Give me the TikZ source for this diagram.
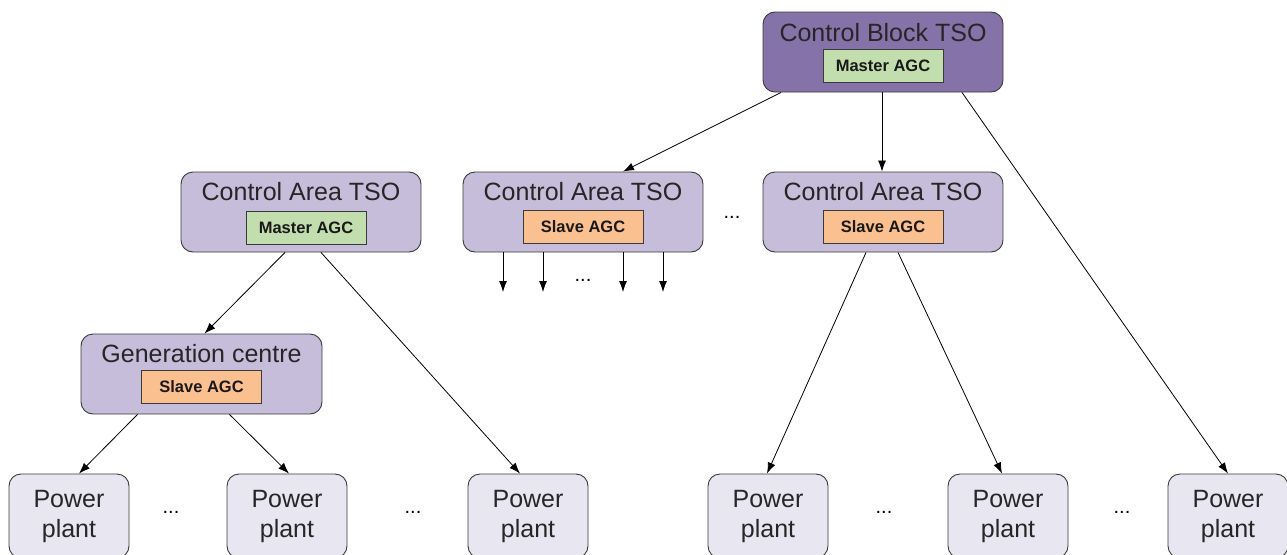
\documentclass[tikz,border=0pt]{standalone}
\usepackage{fontspec}
\setmainfont{Liberation Sans}
\usetikzlibrary{arrows.meta,calc}
\definecolor{cbfill}{HTML}{8572A8}
\definecolor{cafill}{HTML}{C5BDD9}
\definecolor{ppfill}{HTML}{E8E6F0}
\definecolor{mfill}{HTML}{C3DEAE}
\definecolor{sfill}{HTML}{FBC08F}
\definecolor{edge}{HTML}{3A3A3A}
\tikzset{
  outer/.style={draw=edge, line width=0.9pt, rounded corners=12pt, minimum width=240pt, minimum height=80pt, inner sep=0pt},
  blockbox/.style={outer, fill=cbfill},
  areabox/.style={outer, fill=cafill},
  plantbox/.style={outer, fill=ppfill, minimum width=120pt, minimum height=84pt, align=center, font=\fontsize{25}{30}\selectfont, text=black!85},
  title/.style={font=\fontsize{25}{30}\selectfont, text=black!85, inner sep=0pt},
  agc/.style={draw=edge, line width=0.7pt, minimum width=120pt, minimum height=33pt, inner sep=0pt, font=\bfseries\fontsize{16.5}{20}\selectfont, text=black!90},
  masteragc/.style={agc, fill=mfill},
  slaveagc/.style={agc, fill=sfill},
  conn/.style={draw=black, line width=0.8pt, -{Latex[length=11pt,width=8pt]}},
  dots/.style={font=\fontsize{20}{24}\selectfont, inner sep=0pt}
}
\begin{document}
\begin{tikzpicture}[x=1pt,y=-1pt]
\useasboundingbox (0,0) rectangle (1287,554);
% Control Block TSO
\node[blockbox] (cb) at (883,52) {};
\node[title] (cbt) at ([yshift=-21pt]cb.north) {Control Block TSO};
\node[masteragc] (cbagc) at ([yshift=-54pt]cb.north) {Master AGC};
% Control Area left
\node[areabox] (cal) at (301,212) {};
\node[title] (calt) at ([yshift=-20pt]cal.north) {Control Area TSO};
\node[masteragc] (calagc) at ([xshift=5pt,yshift=-56pt]cal.north) {Master AGC};
% Control Area mid
\node[areabox] (cam) at (583,212) {};
\node[title] (camt) at ([yshift=-20pt]cam.north) {Control Area TSO};
\node[slaveagc] (camagc) at ([yshift=-55pt]cam.north) {Slave AGC};
% Control Area right
\node[areabox] (car) at (883,212) {};
\node[title] (cart) at ([yshift=-20pt]car.north) {Control Area TSO};
\node[slaveagc] (caragc) at ([yshift=-55pt]car.north) {Slave AGC};
% Generation centre
\node[areabox, minimum width=241pt] (gc) at (201.5,374) {};
\node[title] (gct) at ([yshift=-20pt]gc.north) {Generation centre};
\node[slaveagc] (gcagc) at ([yshift=-53pt]gc.north) {Slave AGC};
% Power plants
\node[plantbox] (pp1) at (69,516) {Power\\plant};
\node[plantbox] (pp2) at (287,516) {Power\\plant};
\node[plantbox] (pp3) at (528,516) {Power\\plant};
\node[plantbox] (pp4) at (768,516) {Power\\plant};
\node[plantbox] (pp5) at (1008,516) {Power\\plant};
\node[plantbox] (pp6) at (1228,516) {Power\\plant};
% dots
\node[dots] (d1) at (171,512) {...};
\node[dots] (d2) at (413,512) {...};
\node[dots] (d3) at (884,512) {...};
\node[dots] (d4) at (1122,512) {...};
\node[dots] (d5) at (732,217) {...};
\node[dots] (d6) at (583,280) {...};
% free ends below mid control area
\coordinate (m1) at (503,292);
\coordinate (m2) at (543,292);
\coordinate (m3) at (623,292);
\coordinate (m4) at (663,292);
% connectors
\draw[conn] ([xshift=-102pt]cb.south) -- ([xshift=40pt]cam.north);
\draw[conn] ([xshift=-1pt]cb.south) -- ([xshift=-1pt]car.north);
\draw[conn] ([xshift=79pt]cb.south) -- ([xshift=0pt]pp6.north);
\draw[conn] ([xshift=-16pt]cal.south) -- ([xshift=3pt]gc.north);
\draw[conn] ([xshift=20pt]cal.south) -- ([xshift=-8pt]pp3.north);
\draw[conn] ([xshift=-64pt]gc.south) -- ([xshift=10pt]pp1.north);
\draw[conn] ([xshift=28pt]gc.south) -- ([xshift=2pt]pp2.north);
\draw[conn] ([xshift=-17pt]car.south) -- ([xshift=-1pt]pp4.north);
\draw[conn] ([xshift=15pt]car.south) -- ([xshift=-6pt]pp5.north);
\draw[conn] (cam.south -| m1) -- (m1);
\draw[conn] (cam.south -| m2) -- (m2);
\draw[conn] (cam.south -| m3) -- (m3);
\draw[conn] (cam.south -| m4) -- (m4);
\end{tikzpicture}
\end{document}
